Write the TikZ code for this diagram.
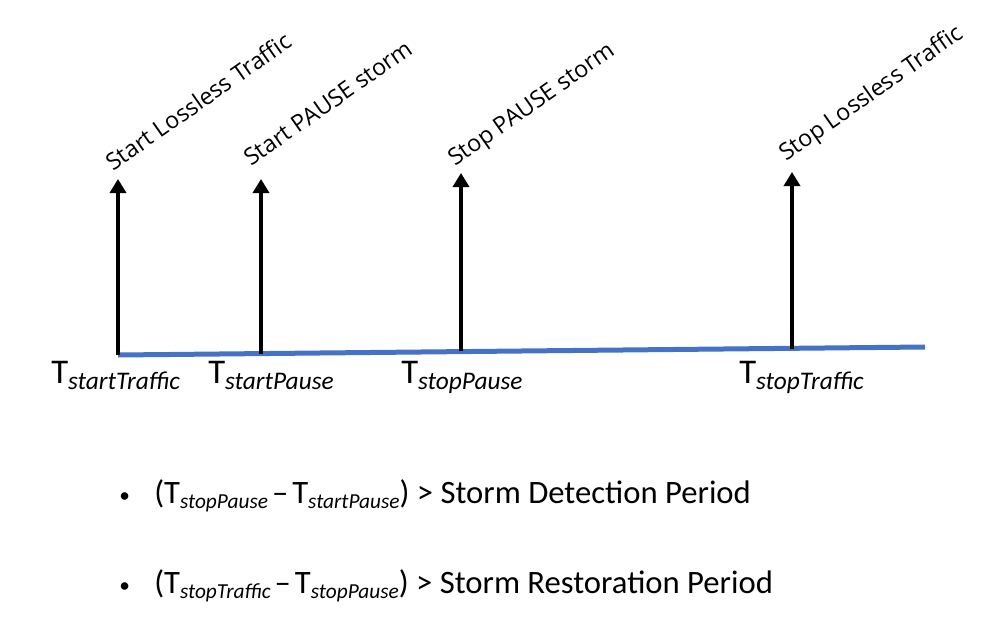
\documentclass[tikz,border=0pt]{standalone}
\usepackage{fontspec}
\setmainfont{Carlito}
\newfontfamily\labfont{Open Sans}
\usetikzlibrary{arrows.meta}
\definecolor{lineblue}{HTML}{4472C4}
\tikzset{
  timeline/.style={draw=lineblue, line width=3.75pt},
  eventarrow/.style={draw=black, line width=3.6pt, -{Triangle[width=12pt,length=10.5pt]}},
  evlabel/.style={font=\labfont\fontsize{17.5}{20}\selectfont, anchor=base west, rotate=35, inner sep=0pt},
  tlabel/.style={font=\fontsize{26}{30}\selectfont, anchor=base west, inner sep=0pt},
  bullettext/.style={font=\fontsize{24.5}{28}\selectfont, anchor=base west, inner sep=0pt}
}
\newcommand{\tsub}[1]{\raisebox{-5pt}{\fontsize{19}{21}\selectfont\itshape #1}}
\newcommand{\bsub}[1]{\raisebox{-4pt}{\fontsize{16}{17}\selectfont\itshape #1}}
\begin{document}
\begin{tikzpicture}[x=0.75pt,y=-0.75pt]
\useasboundingbox (0,0) rectangle (988,642);
% timeline
\coordinate (L0) at (118,355);
\coordinate (L1) at (925,347);
\draw[timeline] (L0) -- (L1);
% arrow bases and tips
\coordinate (b1) at (118,355); \coordinate (t1) at (118,179);
\coordinate (b2) at (261,354); \coordinate (t2) at (261,179);
\coordinate (b3) at (461,351); \coordinate (t3) at (461,173);
\coordinate (b4) at (792,349); \coordinate (t4) at (792,172);
\draw[eventarrow] (b1) -- (t1);
\draw[eventarrow] (b2) -- (t2);
\draw[eventarrow] (b3) -- (t3);
\draw[eventarrow] (b4) -- (t4);
% event labels
\node[evlabel] (e1) at (113,172) {Start Lossless Traffic};
\node[evlabel] (e2) at (251,167) {Start PAUSE storm};
\node[evlabel] (e3) at (455,167) {Stop PAUSE storm};
\node[evlabel] (e4) at (786,162) {Stop Lossless Traffic};
% time labels
\node[tlabel] (T1) at (51,383) {T\tsub{startTraffic}};
\node[tlabel] (T2) at (208,383) {T\tsub{startPause}};
\node[tlabel] (T3) at (401,383) {T\tsub{stopPause}};
\node[tlabel] (T4) at (739,383) {T\tsub{stopTraffic}};
% bullets
\node[bullettext, font=\fontsize{16}{18}\selectfont] (bl1) at (119,502) {\textbullet};
\node[bullettext] (c1) at (154,503) {(T\bsub{stopPause}\kern3pt--\kern3pt T\bsub{startPause}) > Storm Detection Period};
\node[bullettext, font=\fontsize{16}{18}\selectfont] (bl2) at (119,592) {\textbullet};
\node[bullettext] (c2) at (154,593) {(T\bsub{stopTraffic}\kern3pt--\kern3pt T\bsub{stopPause}) > Storm Restoration Period};
\end{tikzpicture}
\end{document}
